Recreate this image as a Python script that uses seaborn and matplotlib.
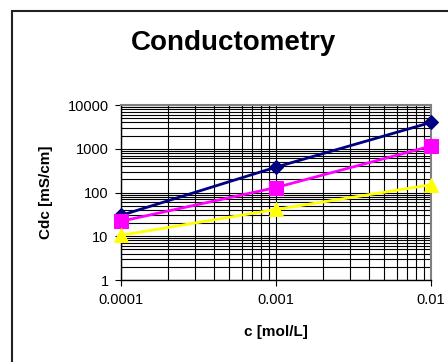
import numpy as np
import pandas as pd
import matplotlib
matplotlib.use('Agg')
import matplotlib.pyplot as plt
import matplotlib.ticker as mticker
from matplotlib.patches import Rectangle
import seaborn as sns

# data
conc = [0.0001, 0.001, 0.01]
cdc_blue = [30, 380, 4000]
cdc_pink = [22, 130, 1150]
cdc_yellow = [10.5, 41, 150]
x_ticks = [0.0001, 0.001, 0.01]
x_labels = ['0.0001', '0.001', '0.01']
y_ticks = [1, 10, 100, 1000, 10000]
y_labels = ['1', '10', '100', '1000', '10000']

sns.set_style('white')
plt.rcParams['font.family'] = ['Liberation Sans', 'DejaVu Sans']
plt.rcParams['text.color'] = 'black'
plt.rcParams['axes.labelcolor'] = 'black'
plt.rcParams['xtick.color'] = 'black'
plt.rcParams['ytick.color'] = 'black'

fig = plt.figure(figsize=(4.48, 3.62), dpi=100)
ax = fig.add_axes([121/448, 1-280/362, 310/448, 175/362])

series = [
    (cdc_blue, '#000080', 'D', 7.5),
    (cdc_pink, '#FF00FF', 's', 9.6),
    (cdc_yellow, '#FFFF00', '^', 10),
]
for vals, col, mk, ms in series:
    df = pd.DataFrame({'c': conc, 'cdc': vals})
    sns.lineplot(data=df, x='c', y='cdc', ax=ax, color=col, marker=mk,
                 markersize=ms, markeredgecolor=col, linewidth=2,
                 clip_on=False, zorder=5)

ax.set_xscale('log')
ax.set_yscale('log')
ax.set_xlim(1e-4, 1e-2)
ax.set_ylim(1, 1e4)

ax.xaxis.set_major_locator(mticker.FixedLocator(x_ticks))
ax.xaxis.set_major_formatter(mticker.FixedFormatter(x_labels))
ax.yaxis.set_major_locator(mticker.FixedLocator(y_ticks))
ax.yaxis.set_major_formatter(mticker.FixedFormatter(y_labels))
ax.xaxis.set_minor_locator(mticker.LogLocator(base=10, subs=np.arange(2, 10)))
ax.yaxis.set_minor_locator(mticker.LogLocator(base=10, subs=np.arange(2, 10)))
ax.xaxis.set_minor_formatter(mticker.NullFormatter())
ax.yaxis.set_minor_formatter(mticker.NullFormatter())

ax.grid(True, which='both', color='black', linewidth=0.8)
ax.tick_params(which='major', direction='out', length=4, width=0.8,
               color='black', labelcolor='black', labelsize=10.5, pad=5,
               bottom=True, left=True)
ax.tick_params(which='minor', length=0)
for s in ['top', 'right']:
    ax.spines[s].set_color('#808080')
    ax.spines[s].set_linewidth(1.5)
for s in ['left', 'bottom']:
    ax.spines[s].set_color('black')
    ax.spines[s].set_linewidth(1)

ax.set_xlabel('c [mol/L]', fontsize=11, fontweight='bold', labelpad=13,
              color='black')
ax.set_ylabel('Cdc [mS/cm]', fontsize=11, fontweight='bold', labelpad=10,
              color='black')
fig.text(233/448, 1-43/362, 'Conductometry', fontsize=20, fontweight='bold',
         ha='center', va='center', color='black')

fig.add_artist(Rectangle((12/448, -0.1), 1.2, 1.1 - 11/362, fill=False,
                         edgecolor='#222222', linewidth=1.5,
                         transform=fig.transFigure, clip_on=False))

fig.savefig('out.png', dpi=100)
